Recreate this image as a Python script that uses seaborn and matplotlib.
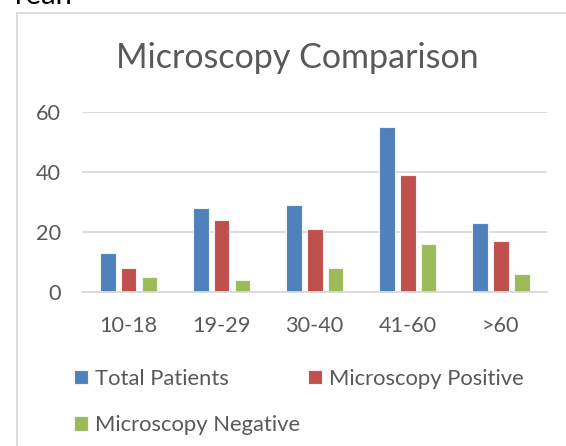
"""Microscopy comparison by age group"""
import pandas as pd
import matplotlib
matplotlib.use('Agg')
import matplotlib.pyplot as plt
from matplotlib.lines import Line2D
import seaborn as sns

sns.set_theme(style="white")
plt.rcParams['font.family'] = ['Lato', 'DejaVu Sans']

# data
age_groups = ['10-18', '19-29', '30-40', '41-60', '>60']
total_patients = [13, 28, 29, 55, 23]
micro_positive = [8, 24, 21, 39, 17]
micro_negative = [5, 4, 8, 16, 6]
series_names = ['Total Patients', 'Microscopy Positive', 'Microscopy Negative']
series_colors = ['#4F81BD', '#C0504D', '#9BBB59']
y_ticks = [0, 20, 40, 60]

df = pd.DataFrame({
    'age': age_groups * 3,
    'series': sum([[s] * len(age_groups) for s in series_names], []),
    'count': total_patients + micro_positive + micro_negative,
})

text_col = '#595959'
grid_col = '#D9D9D9'

fig = plt.figure(figsize=(5.66, 4.46), dpi=100)
ax = fig.add_axes([0.1449, 0.3446, 0.8216, 0.405])

sns.barplot(data=df, x='age', y='count', hue='series', hue_order=series_names,
            palette=series_colors, saturation=1, width=0.677, gap=0.24, ax=ax,
            edgecolor='#F2F2F2', linewidth=0.8, legend=True)

ax.set_ylim(0, 60)
ax.set_xlim(-0.5, 4.5)
ax.set_yticks(y_ticks)
ax.yaxis.grid(True, color=grid_col, linewidth=1.3)
ax.set_axisbelow(True)
ax.set_xlabel('')
ax.set_ylabel('')
for s in ['top', 'right', 'left']:
    ax.spines[s].set_visible(False)
ax.spines['bottom'].set_color(grid_col)
ax.spines['bottom'].set_linewidth(1.3)
ax.tick_params(axis='both', length=0, labelsize=15.6, colors=text_col)
ax.tick_params(axis='x', pad=17)
ax.tick_params(axis='y', pad=15)

# legend laid out like the Excel one (row-wise: Total, Positive / Negative)
handles, labels = ax.get_legend_handles_labels()
ax.get_legend().remove()
order = [0, 2, 1]
fig.legend([handles[i] for i in order], [labels[i] for i in order],
           ncol=2, loc='upper left', bbox_to_anchor=(0.1307, 0.173),
           frameon=False, fontsize=15.8, labelcolor=text_col,
           handlelength=0.64, handleheight=0.64, handletextpad=0.32,
           columnspacing=0.37, labelspacing=1.2, borderpad=0, borderaxespad=0)

fig.text(0.5256, 1 - 68 / 446, 'Microscopy Comparison', ha='center', va='baseline',
         fontsize=24.5, color=text_col)

# chart frame and the clipped text above it
fig.add_artist(Line2D([17 / 566, 1.0], [1 - 13 / 446, 1 - 13 / 446],
                      transform=fig.transFigure, color=grid_col, linewidth=1.3))
fig.add_artist(Line2D([17 / 566, 17 / 566], [0, 1 - 13 / 446],
                      transform=fig.transFigure, color=grid_col, linewidth=1.3))
fig.text(15 / 566, 1 - 4 / 446, 'rean', ha='left', va='baseline',
         fontsize=21, color='black')

plt.savefig('out.png', dpi=100, facecolor='white')
plt.close()
